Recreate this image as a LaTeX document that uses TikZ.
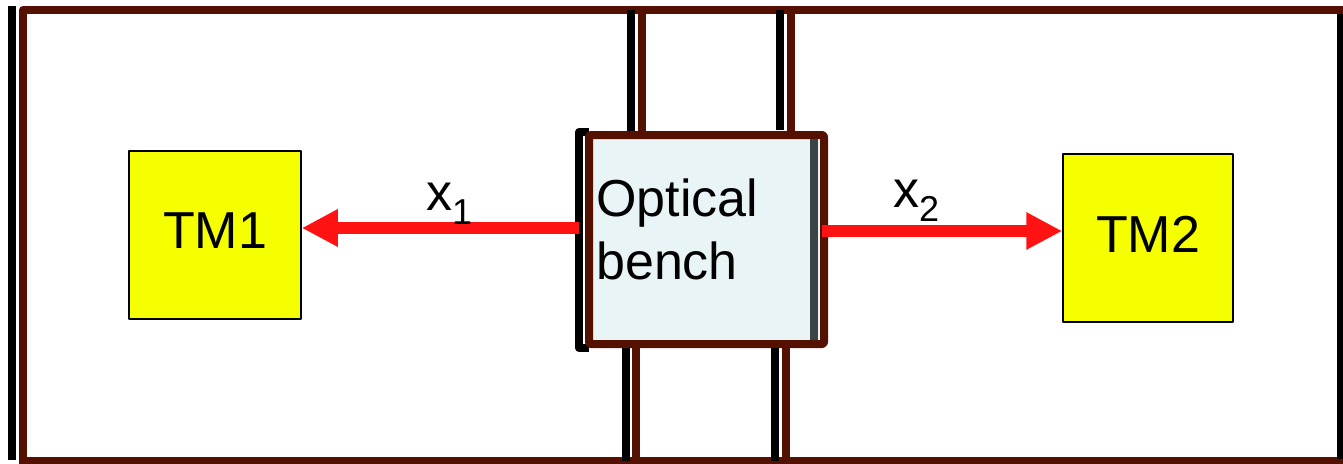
\documentclass[tikz,border=0pt]{standalone}
\usepackage{fontspec}
\setmainfont{Liberation Sans}
\usetikzlibrary{arrows.meta}

\definecolor{framebrown}{RGB}{84,16,0}
\definecolor{stripgray}{RGB}{58,68,71}
\definecolor{benchblue}{RGB}{232,244,246}
\definecolor{tmyellow}{RGB}{245,255,0}
\definecolor{beamred}{RGB}{255,18,18}

\newcommand{\lowsub}[1]{\raisebox{-14pt}{\fontsize{36}{36}\selectfont #1}}

\begin{document}
\begin{tikzpicture}[x=1pt, y=-1pt, line join=round,
    brownline/.style={draw=framebrown, line width=8pt},
    blackline/.style={draw=black, line width=8pt},
    testmass/.style={draw=black, line width=1.5pt, fill=tmyellow, minimum height=168pt, text depth=8pt, inner sep=0pt},
    benchbox/.style={draw=framebrown, line width=8pt, fill=benchblue, minimum width=235pt, minimum height=209pt, rounded corners=2pt, inner sep=0pt},
    xarrow/.style={draw=beamred, line width=12pt, -{Triangle[length=36pt, width=35pt]}},
    font=\fontsize{52}{63}\selectfont]
    \useasboundingbox (0,0) rectangle (1343,463);

    % outer housing
    \draw[blackline] (12,6) -- (12,460);
    \draw[brownline] (1343,10) -- (23,10) -- (23,463);
    \draw[brownline] (19,461) -- (1343,461);
    \draw[blackline] (1341,14) -- (1341,459);

    % struts above and below the bench
    \draw[blackline] (631,10) -- (631,131);
    \draw[brownline] (642,10) -- (642,135);
    \draw[blackline] (780,10) -- (780,130);
    \draw[brownline] (791,10) -- (791,135);
    \draw[blackline] (626,343) -- (626,461);
    \draw[brownline] (636,340) -- (636,461);
    \draw[blackline] (775,340) -- (775,461);
    \draw[brownline] (786,338) -- (786,461);

    % optical bench
    \draw[blackline] (589,132) -- (579,132) -- (579,348) -- (589,348);
    \node[benchbox] (bench) at (706.5,239.5) {};
    \fill[stripgray] (810,139) rectangle (818,340);
    \node[anchor=north west, align=left, inner sep=0pt] (benchtext) at (596,179) {Optical\\bench};

    % test masses
    \node[testmass, minimum width=172pt] (tm1) at (215,235) {TM1};
    \node[testmass, minimum width=170pt] (tm2) at (1148,238) {TM2};

    % readout arrows
    \coordinate (s1) at (579,228);
    \coordinate (s2) at (822,231);
    \draw[xarrow] (s1) -- (s1 -| tm1.east);
    \draw[xarrow] (s2) -- (s2 -| tm2.west);

    \node[anchor=base west, inner sep=0pt] (x1) at (426,210) {x\lowsub{1}};
    \node[anchor=base west, inner sep=0pt] (x2) at (893,207) {x\lowsub{2}};
\end{tikzpicture}
\end{document}
